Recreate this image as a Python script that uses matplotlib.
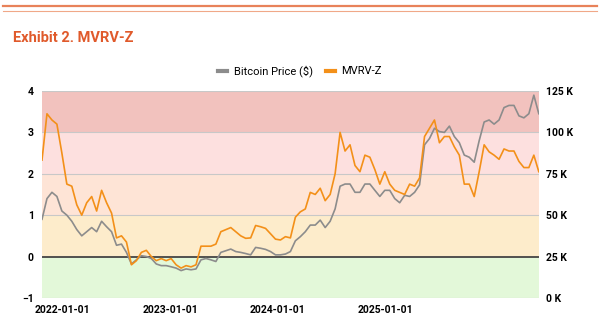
import numpy as np
import matplotlib
matplotlib.use("Agg")
import matplotlib.pyplot as plt
from matplotlib.lines import Line2D

plt.rcParams['font.family'] = ['Roboto', 'DejaVu Sans']

# MVRV-Z, evenly spaced samples (left axis)
mvrv_z = [2.33, 3.45, 3.3, 3.2, 2.5, 1.75, 1.7, 1.25, 1.0, 1.3,
          1.45, 1.1, 1.6, 1.3, 1.05, 0.45, 0.5, 0.35, -0.2, -0.1,
          0.1, 0.15, 0.0, -0.1, -0.05, -0.1, -0.05, -0.2, -0.28, -0.22,
          -0.25, -0.2, 0.25, 0.25, 0.25, 0.3, 0.6, 0.65, 0.7, 0.6,
          0.5, 0.44, 0.45, 0.75, 0.72, 0.68, 0.55, 0.42, 0.4, 0.48,
          0.45, 0.95, 1.08, 1.15, 1.55, 1.5, 1.65, 1.35, 1.5, 2.0,
          3.0, 2.55, 2.7, 2.2, 2.05, 2.45, 2.4, 2.1, 1.75, 2.05,
          1.75, 1.6, 1.55, 1.5, 1.75, 1.7, 1.9, 2.9, 3.1, 3.3,
          2.75, 2.9, 2.9, 2.65, 2.45, 1.75, 1.75, 1.45, 2.05, 2.7,
          2.53, 2.45, 2.35, 2.6, 2.55, 2.55, 2.3, 2.15, 2.15, 2.45, 2.05]

# Bitcoin price in thousands of $ (right axis)
btc_price_k = [47.5, 60.0, 63.8, 61.3, 52.5, 50.0, 46.3, 41.3, 37.5, 40.0,
               42.5, 40.0, 46.3, 43.0, 40.0, 31.8, 32.5, 27.5, 20.5, 23.0,
               25.5, 25.0, 23.8, 20.5, 19.5, 19.5, 18.8, 18.0, 16.5, 17.5,
               17.0, 17.5, 23.0, 23.8, 23.0, 22.0, 27.5, 28.5, 29.5, 28.0,
               27.5, 26.8, 26.0, 30.5, 30.0, 29.3, 28.0, 26.0, 26.0, 26.5,
               28.0, 34.5, 37.0, 40.0, 44.0, 44.0, 47.0, 42.5, 46.3, 53.8,
               67.5, 68.8, 68.8, 63.8, 63.8, 68.8, 68.8, 65.0, 61.3, 65.0,
               65.0, 60.0, 57.5, 62.0, 61.3, 63.8, 68.3, 92.5, 96.3, 102.5,
               100.5, 100.0, 103.8, 97.5, 93.8, 86.3, 85.0, 82.0, 95.0, 106.3,
               107.5, 105.0, 107.5, 115.0, 116.3, 116.3, 110.0, 108.8, 111.3, 122.5, 111.3]

tick_labels = ["2022-01-01", "2023-01-01", "2024-01-01", "2025-01-01"]
tick_idx = [4.2, 25.8, 47.5, 69.2]

bands = [(-1, 0, "#e3f8d9"), (0, 1, "#fdeccb"), (1, 2, "#fee4d6"),
         (2, 3, "#fde0df"), (3, 4, "#f2c2be")]


# right axis: price (K) = (z + 1) * 25
def z_to_price(z):
    return (z + 1) * 25.0


def price_to_z(p):
    return p / 25.0 - 1


x = np.arange(len(mvrv_z))

fig = plt.figure(figsize=(6, 3.31), dpi=100)
ax = fig.add_axes([0.07, 0.10, 0.828, 0.625])

for lo, hi, c in bands:
    ax.axhspan(lo, hi, color=c, zorder=0, lw=0)
for v in [1, 2, 3, 4, -1]:
    ax.axhline(v, color="#c8c8c8", lw=0.8, zorder=1)
ax.axhline(0, color="#444444", lw=1.3, zorder=1)

ax.plot(x, price_to_z(np.array(btc_price_k)), color="#8c8c8c", lw=1.2, zorder=3)
ax.plot(x, mvrv_z, color="#f39019", lw=1.2, zorder=4)

ax.set_xlim(0, len(x) - 1)
ax.set_ylim(-1, 4)
ax.set_yticks([-1, 0, 1, 2, 3, 4])
ax.set_xticks(tick_idx)
ax.set_xticklabels(tick_labels)

ax2 = ax.secondary_yaxis("right", functions=(z_to_price, price_to_z))
ax2.set_yticks([0, 25, 50, 75, 100, 125])
ax2.set_yticklabels([f"{v} K" for v in [0, 25, 50, 75, 100, 125]])

for a in (ax, ax2):
    for s in a.spines.values():
        s.set_visible(False)
    a.tick_params(length=0, labelsize=7.5, pad=3)
    for lab in a.get_xticklabels() + a.get_yticklabels():
        lab.set_fontweight("bold")
ax.tick_params(axis="x", pad=5)
ax.tick_params(axis="y", pad=6)
ax2.tick_params(axis="y", pad=5)

handles = [Line2D([], [], color="#8c8c8c", lw=3),
           Line2D([], [], color="#f39019", lw=3)]
fig.legend(handles, ["Bitcoin Price ($)", "MVRV-Z"], loc="center",
           bbox_to_anchor=(0.5, 0.785), ncol=2, frameon=False, fontsize=8,
           handlelength=0.8, handletextpad=0.6, columnspacing=1.2)

fig.text(0.022, 0.885, "Exhibit 2. MVRV-Z", fontsize=10.5, fontweight="bold",
         color="#e05a2b", va="center")
fig.add_artist(Line2D([0.005, 0.995], [0.982, 0.982], color="#e8825a", lw=1.6))
fig.add_artist(Line2D([0.005, 0.995], [0.966, 0.966], color="#f0a888", lw=0.8))

fig.savefig("out.png", dpi=100)
